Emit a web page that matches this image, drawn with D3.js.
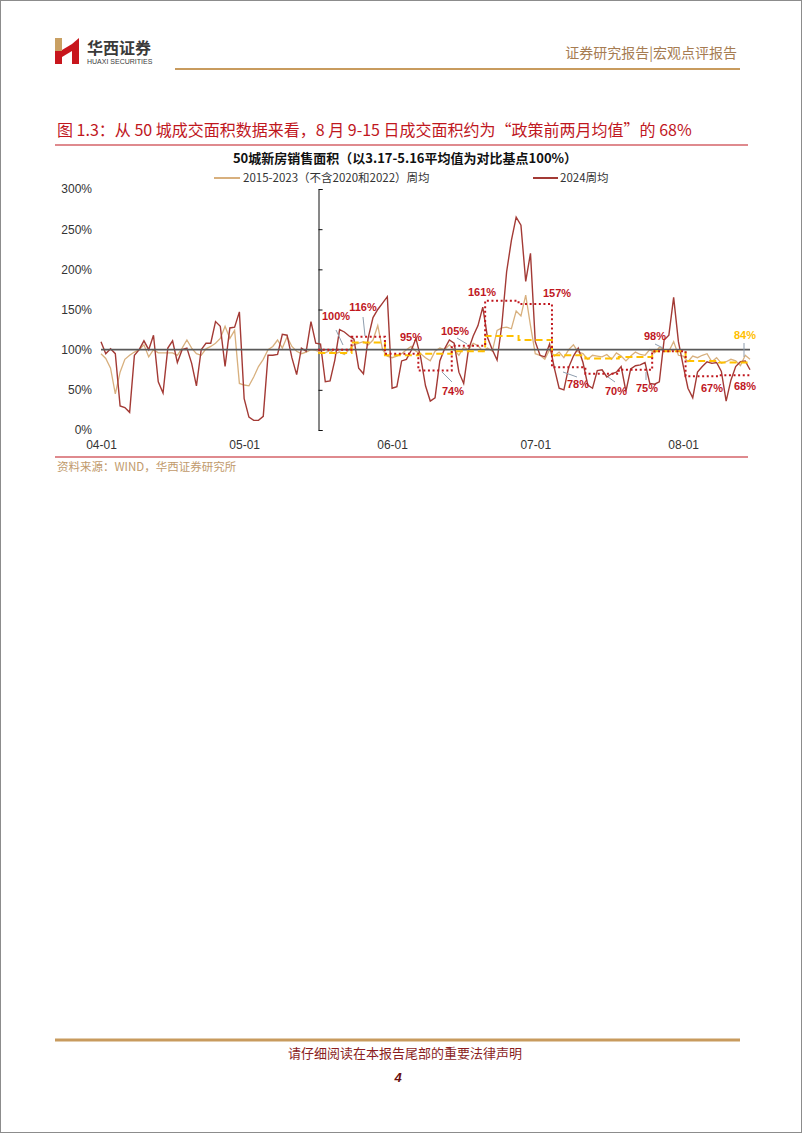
<!DOCTYPE html>
<html><head><meta charset="utf-8">
<script src="https://cdn.jsdelivr.net/npm/d3@7"></script>
<style>
body{margin:0;background:#fff;}
svg{display:block;font-family:"Liberation Sans",Arial,"Noto Sans CJK SC",sans-serif;}
.cjk{font-family:"Noto Sans CJK SC",sans-serif;}
</style></head>
<body>
<svg id="c" width="802" height="1133"></svg>
<script>
// ---- data ----
const startDay = "2024-04-01";
const tickLabels = ["04-01","05-01","06-01","07-01","08-01"];
const yTicks = [0,50,100,150,200,250,300];
const series2024 = [110,95,101,95,30,28,22,93,100,111,100,118,60,46,102,111,84,100,102,83,
 55,100,108,108,135,129,79,127,128,147,39,16,12,12,17,93,93,94,119,118,
 90,69,102,98,135,108,107,60,61,87,125,122,117,113,77,70,115,140,150,158,
 166,52,54,86,88,99,114,90,55,36,40,86,101,112,108,72,58,100,117,130,
 153,115,100,87,131,197,236,265,255,185,220,110,93,91,107,77,52,50,78,92,
 102,84,56,52,74,75,66,70,72,79,48,76,80,81,84,58,57,60,112,118,
 165,110,80,52,40,72,79,85,83,84,73,36,62,79,85,86,75];
const series1523 = [95,89,77,45,72,88,93,97,100,106,91,100,96,96,96,96,93,102,112,102,
 95,93,101,104,108,114,129,114,124,58,56,55,66,79,88,100,104,112,102,116,
 104,98,95,97,100,99,97,96,99,95,97,94,100,106,108,110,106,112,130,100,
 92,90,92,95,100,104,98,95,90,86,98,102,100,106,100,93,103,100,108,105,
 98,102,98,124,127,128,126,148,142,168,130,95,93,88,100,92,97,90,100,106,
 97,95,88,93,92,91,94,88,96,92,86,92,97,94,93,100,96,103,100,98,
 110,93,92,85,92,90,93,95,85,90,83,85,88,86,80,93,88];
const weekStartIdx = [46,53,60,67,74,81,88,95,102,109,116,123,130];
const weekAvg2024 = [100,116,95,74,105,161,157,78,70,75,98,67,68];
const weekAvg1523 = [96,109,93,95,98,117,112,93,89,91,98,86,84];
const weekLabelPos = [[336,316],[363,307],[411,337],[453,391],[455,331],[482,292],[557,293],[578,384],[616,391],[647,388],[655,336],[712,388],[745,386]];
const leaders = [[336,330,343,345],[363,317,365,336],[457,338,467,344],[442,372,452,382],[563,372,577,377],[608,377,615,382],[646,372,646,380],[655,344,663,348],[744,343,744,357]];

const svg = d3.select("#c");
// page frame
svg.append("rect").attr("x",0.5).attr("y",0.5).attr("width",801).attr("height",1132).attr("fill","none").attr("stroke","#8c8c8c");

// ---- header ----
const logo = svg.append("g");
logo.append("rect").attr("x",55).attr("y",38).attr("width",7).attr("height",13).attr("fill","#C9A063");
logo.append("rect").attr("x",55).attr("y",51).attr("width",7).attr("height",13).attr("fill","#C8161D");
logo.append("path").attr("d","M62,50 L72,44 L72,51 L62,57 Z").attr("fill","#C8161D");
logo.append("path").attr("d","M72,44 L79,38 L79,64 L72,64 Z").attr("fill","#C8161D");
svg.append("text").attr("class","cjk").attr("x",87).attr("y",54).attr("font-size",16).attr("font-weight","bold").attr("fill","#3a3a3a").text("华西证券");
svg.append("text").attr("x",87).attr("y",64).attr("font-size",7).attr("fill","#3a3a3a").text("HUAXI SECURITIES");
svg.append("text").attr("class","cjk").attr("x",737).attr("y",58).attr("text-anchor","end").attr("font-size",14).attr("fill","#A67C52").text("证券研究报告|宏观点评报告");
svg.append("line").attr("x1",175).attr("x2",740).attr("y1",69).attr("y2",69).attr("stroke","#C89B5E").attr("stroke-width",2);

// figure title
svg.append("text").attr("class","cjk").attr("x",57).attr("y",136).attr("font-size",16).attr("fill","#C0171E")
  .text("图 1.3：从 50 城成交面积数据来看，8 月 9-15 日成交面积约为“政策前两月均值”的 68%");
svg.append("line").attr("x1",55).attr("x2",748).attr("y1",145).attr("y2",145).attr("stroke","#C0171E").attr("stroke-width",1.2);
svg.append("line").attr("x1",55).attr("x2",748).attr("y1",457).attr("y2",457).attr("stroke","#C0171E").attr("stroke-width",1.2);
svg.append("text").attr("class","cjk").attr("x",57).attr("y",471).attr("font-size",11.5).attr("fill","#C19A6B").text("资料来源：WIND，华西证券研究所");

// chart title & legend
svg.append("text").attr("class","cjk").attr("x",405).attr("y",163).attr("text-anchor","middle").attr("font-size",13).attr("font-weight","bold").attr("fill","#111")
  .text("50城新房销售面积（以3.17-5.16平均值为对比基点100%）");
svg.append("line").attr("x1",214).attr("x2",240).attr("y1",178).attr("y2",178).attr("stroke","#D8B07E").attr("stroke-width",2);
svg.append("text").attr("class","cjk").attr("x",243).attr("y",182).attr("font-size",11.5).attr("fill","#333").text("2015-2023（不含2020和2022）周均");
svg.append("line").attr("x1",533).attr("x2",558).attr("y1",178).attr("y2",178).attr("stroke","#A33A35").attr("stroke-width",2);
svg.append("text").attr("class","cjk").attr("x",560).attr("y",182).attr("font-size",11.5).attr("fill","#333").text("2024周均");

// ---- scales ----
const parse = d3.timeParse("%Y-%m-%d");
const d0 = parse(startDay);
const dayAt = i => d3.timeDay.offset(d0, i);
const n = series2024.length;
const x = d3.scaleTime().domain([d0, dayAt(n-1)]).range([101,750]);
const y = d3.scaleLinear().domain([0,300]).range([430,189]);
const xi = i => x(dayAt(0)) + (x(dayAt(1))-x(dayAt(0)))*i;

// axes
const yAx = svg.append("g").attr("transform","translate(94,0)")
  .call(d3.axisLeft(y).tickValues(yTicks).tickFormat(d=>d+"%").tickSize(0).tickPadding(2));
yAx.select(".domain").remove();
yAx.selectAll("text").attr("font-size",12).attr("fill","#333").attr("font-family","Liberation Sans, Arial");

const xTickDates = tickLabels.map(s => parse("2024-"+s));
const xAx = svg.append("g").attr("transform","translate(0,437)")
  .call(d3.axisBottom(x).tickValues(xTickDates).tickFormat(d3.timeFormat("%m-%d")).tickSize(0).tickPadding(3));
xAx.select(".domain").remove();
xAx.selectAll("text").attr("font-size",12).attr("fill","#333").attr("font-family","Liberation Sans, Arial");

// secondary vertical axis at 05-16
const ax2 = svg.append("g").attr("transform",`translate(${Math.round(xi(45.5))+0.5},0)`)
  .call(d3.axisRight(y).tickValues(yTicks).tickFormat("").tickSize(4).tickSizeOuter(4));
ax2.selectAll("path,line").attr("stroke","#111").attr("stroke-width",1);

// ---- series ----
const line = d3.line().x((d,i)=>x(dayAt(i))).y(d=>y(d));
svg.append("path").datum(series1523).attr("d",line).attr("fill","none").attr("stroke","#D8B07E").attr("stroke-width",1.3);
svg.append("path").datum(series2024).attr("d",line).attr("fill","none").attr("stroke","#A33A35").attr("stroke-width",1.4);

// 100% line
svg.append("line").attr("x1",x(dayAt(0))).attr("x2",x(dayAt(n-1))).attr("y1",y(100)).attr("y2",y(100)).attr("stroke","#595959").attr("stroke-width",1.6);

// step lines
function stepPts(vals){
  const pts=[];
  vals.forEach((v,k)=>{
    const s = weekStartIdx[k]-0.5;
    const e = Math.min(weekStartIdx[k]+6.5, n-1);
    pts.push([xi(s), y(v)]); pts.push([xi(e), y(v)]);
  });
  return pts;
}
const sl = d3.line();
svg.append("path").attr("d",sl(stepPts(weekAvg1523))).attr("fill","none").attr("stroke","#FFC000").attr("stroke-width",2).attr("stroke-dasharray","7,4");
svg.append("path").attr("d",sl(stepPts(weekAvg2024))).attr("fill","none").attr("stroke","#C0171E").attr("stroke-width",2).attr("stroke-dasharray","2,2.6");

// leader lines
svg.selectAll(".ld").data(leaders).enter().append("line")
  .attr("x1",d=>d[0]).attr("y1",d=>d[1]).attr("x2",d=>d[2]).attr("y2",d=>d[3])
  .attr("stroke","#8E9DAE").attr("stroke-width",1);

// labels
svg.selectAll(".wl").data(weekAvg2024).enter().append("text")
  .attr("x",(d,i)=>weekLabelPos[i][0]).attr("y",(d,i)=>weekLabelPos[i][1]+4)
  .attr("text-anchor","middle").attr("font-size",11).attr("font-weight","bold").attr("fill","#C0171E")
  .text(d=>d+"%");
svg.append("text").attr("x",745).attr("y",339).attr("text-anchor","middle").attr("font-size",11).attr("font-weight","bold").attr("fill","#FFC000")
  .text(weekAvg1523[weekAvg1523.length-1]+"%");

// ---- footer ----
svg.append("line").attr("x1",55).attr("x2",740).attr("y1",1040).attr("y2",1040).attr("stroke","#C89B5E").attr("stroke-width",3);
svg.append("text").attr("class","cjk").attr("x",405).attr("y",1058).attr("text-anchor","middle").attr("font-size",13).attr("fill","#8B1E1E").text("请仔细阅读在本报告尾部的重要法律声明");
svg.append("text").attr("x",398).attr("y",1082).attr("text-anchor","middle").attr("font-size",13).attr("font-weight","bold").attr("font-style","italic").attr("fill","#6B1010").text("4");
</script>
</body></html>
